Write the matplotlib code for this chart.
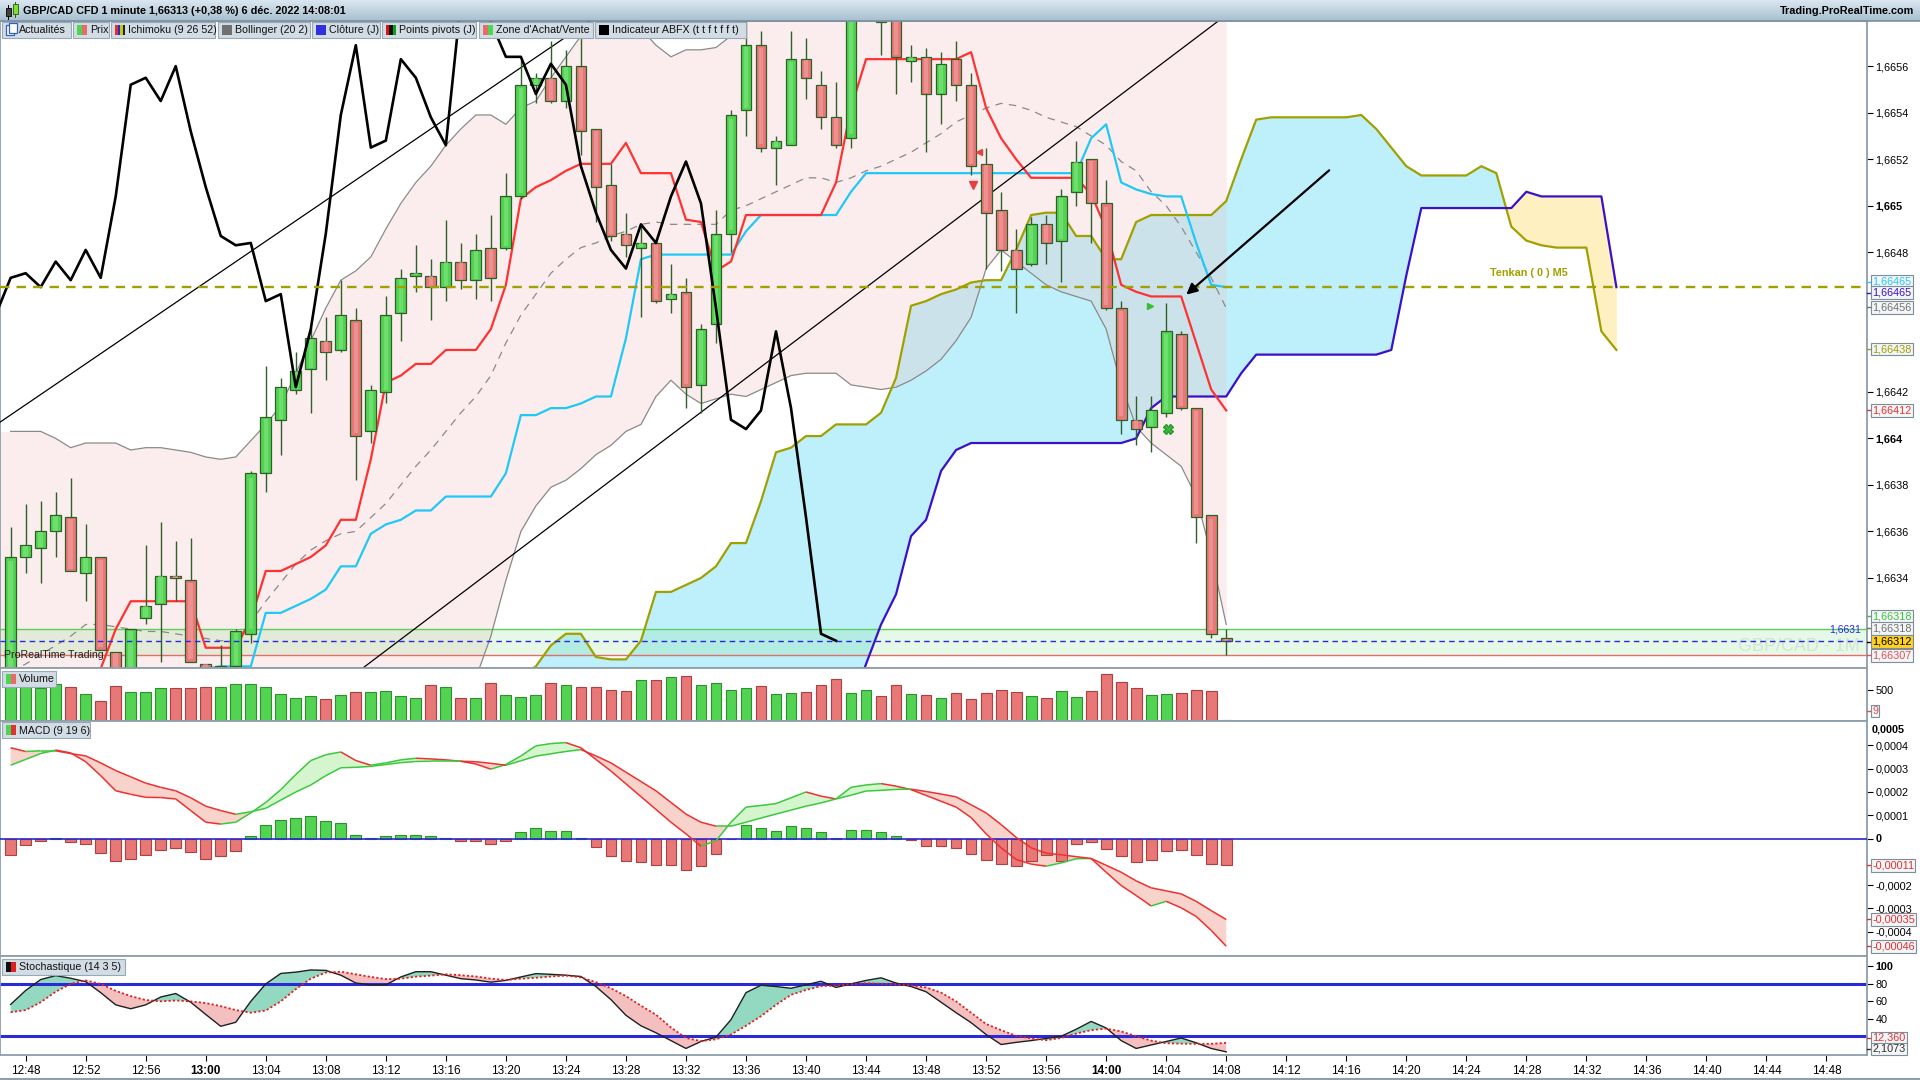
import numpy as np
import matplotlib
matplotlib.use("Agg")
import matplotlib.pyplot as plt
import matplotlib.transforms as mtransforms
from matplotlib.collections import LineCollection
from matplotlib.colors import LinearSegmentedColormap
from matplotlib.patches import Rectangle

plt.rcParams['font.family'] = ['Liberation Sans', 'DejaVu Sans']

nan = np.nan

title = "GBP/CAD CFD 1 minute 1,66313 (+0,38 %) 6 déc. 2022 14:08:01"
first_bar = "12:47"   # one candle per minute, 12:47 .. 14:08

opens = [1.66295, 1.66349, 1.66353, 1.66360, 1.66366, 1.66342, 1.66349, 1.66308, 1.66295, 1.66323,
         1.66329, 1.66341, 1.66339, 1.66303, 1.66299, 1.66302, 1.66316, 1.66385, 1.66408, 1.66421,
         1.66430, 1.66442, 1.66438, 1.66451, 1.66403, 1.66420, 1.66454, 1.66470, 1.66470, 1.66465,
         1.66476, 1.66468, 1.66482, 1.66482, 1.66504, 1.66552, 1.66555, 1.66545, 1.66560, 1.66533,
         1.66509, 1.66488, 1.66482, 1.66484, 1.66460, 1.66463, 1.66423, 1.66449, 1.66488, 1.66541,
         1.66569, 1.66525, 1.66526, 1.66563, 1.66552, 1.66538, 1.66529, 1.66588, 1.66598, 1.66590,
         1.66562, 1.66564, 1.66548, 1.66563, 1.66552, 1.66518, 1.66498, 1.66481, 1.66475, 1.66492,
         1.66485, 1.66506, 1.66520, 1.66501, 1.66456, 1.66408, 1.66405, 1.66411, 1.66445, 1.66413,
         1.66367, 1.66314]
highs = [1.66362, 1.66372, 1.66373, 1.66377, 1.66383, 1.66363, 1.66349, 1.66308, 1.66318, 1.66354,
         1.66364, 1.66356, 1.66357, 1.66303, 1.66311, 1.66318, 1.66386, 1.66431, 1.66426, 1.66437,
         1.66448, 1.66452, 1.66468, 1.66456, 1.66423, 1.66461, 1.66473, 1.66483, 1.66477, 1.66494,
         1.66484, 1.66488, 1.66496, 1.66514, 1.66563, 1.66557, 1.66571, 1.66567, 1.66573, 1.66533,
         1.66518, 1.66497, 1.66492, 1.66485, 1.66475, 1.66469, 1.66449, 1.66498, 1.66541, 1.66580,
         1.66575, 1.66530, 1.66575, 1.66572, 1.66558, 1.66553, 1.66592, 1.66606, 1.66603, 1.66595,
         1.66569, 1.66568, 1.66566, 1.66571, 1.66557, 1.66525, 1.66506, 1.66490, 1.66495, 1.66496,
         1.66507, 1.66528, 1.66520, 1.66511, 1.66459, 1.66418, 1.66418, 1.66458, 1.66446, 1.66413,
         1.66367, 1.66318]
lows = [1.66290, 1.66342, 1.66338, 1.66349, 1.66343, 1.66330, 1.66309, 1.66290, 1.66290, 1.66320,
        1.66304, 1.66330, 1.66304, 1.66290, 1.66290, 1.66300, 1.66312, 1.66377, 1.66393, 1.66419,
        1.66411, 1.66425, 1.66437, 1.66382, 1.66398, 1.66415, 1.66442, 1.66463, 1.66451, 1.66459,
        1.66464, 1.66460, 1.66459, 1.66481, 1.66503, 1.66544, 1.66544, 1.66542, 1.66522, 1.66493,
        1.66485, 1.66478, 1.66452, 1.66458, 1.66454, 1.66413, 1.66411, 1.66441, 1.66480, 1.66530,
        1.66523, 1.66509, 1.66526, 1.66546, 1.66533, 1.66525, 1.66525, 1.66582, 1.66565, 1.66548,
        1.66553, 1.66523, 1.66535, 1.66545, 1.66513, 1.66473, 1.66472, 1.66454, 1.66474, 1.66475,
        1.66467, 1.66500, 1.66484, 1.66455, 1.66402, 1.66397, 1.66394, 1.66409, 1.66412, 1.66355,
        1.66314, 1.66307]
closes = [1.66349, 1.66354, 1.66360, 1.66367, 1.66343, 1.66349, 1.66309, 1.66296, 1.66318, 1.66328,
          1.66341, 1.66340, 1.66304, 1.66298, 1.66302, 1.66317, 1.66385, 1.66409, 1.66422, 1.66429,
          1.66443, 1.66437, 1.66453, 1.66401, 1.66421, 1.66453, 1.66469, 1.66471, 1.66465, 1.66476,
          1.66468, 1.66481, 1.66469, 1.66504, 1.66552, 1.66555, 1.66545, 1.66560, 1.66532, 1.66508,
          1.66487, 1.66483, 1.66484, 1.66459, 1.66462, 1.66422, 1.66447, 1.66488, 1.66539, 1.66569,
          1.66525, 1.66528, 1.66563, 1.66555, 1.66538, 1.66526, 1.66588, 1.66600, 1.66579, 1.66564,
          1.66564, 1.66548, 1.66561, 1.66552, 1.66517, 1.66497, 1.66481, 1.66473, 1.66492, 1.66484,
          1.66504, 1.66519, 1.66501, 1.66456, 1.66408, 1.66404, 1.66412, 1.66446, 1.66413, 1.66366,
          1.66316, 1.66313]
volumes = [565, 565, 522, 587, 538, 439, 324, 554, 472, 472, 522, 522, 522, 538, 538, 587, 587, 538,
           439, 373, 406, 357, 423, 472, 472, 489, 406, 373, 571, 538, 373, 373, 604, 423, 390, 423,
           604, 571, 538, 538, 505, 489, 653, 653, 703, 719, 571, 604, 505, 522, 554, 439, 456, 472,
           571, 670, 456, 505, 406, 571, 439, 423, 373, 456, 357, 456, 505, 472, 406, 373, 489, 390,
           489, 752, 620, 522, 423, 439, 456, 505, 489, 9]

# Bollinger (20 2)
bb_upper = [1.66403, 1.66403, 1.66403, 1.66400, 1.66396, 1.66398, 1.66398, 1.66398, 1.66395, 1.66396,
            1.66396, 1.66395, 1.66394, 1.66392, 1.66391, 1.66392, 1.66399, 1.66406, 1.66414, 1.66428,
            1.66442, 1.66456, 1.66468, 1.66472, 1.66478, 1.66490, 1.66501, 1.66510, 1.66517, 1.66526,
            1.66533, 1.66539, 1.66539, 1.66535, 1.66542, 1.66545, 1.66555, 1.66564, 1.66573, 1.66583,
            1.66587, 1.66584, 1.66576, 1.66569, 1.66564, 1.66567, 1.66567, 1.66568, 1.66573, 1.66583,
            1.66590] + [nan] * 31
bb_mid = [1.66300, 1.66303, 1.66307, 1.66311, 1.66315, 1.66320, 1.66320, 1.66319, 1.66318, 1.66317,
          1.66317, 1.66316, 1.66315, 1.66314, 1.66313, 1.66313, 1.66321, 1.66330, 1.66338, 1.66346,
          1.66352, 1.66356, 1.66359, 1.66360, 1.66366, 1.66372, 1.66380, 1.66388, 1.66395, 1.66403,
          1.66411, 1.66418, 1.66427, 1.66441, 1.66453, 1.66462, 1.66471, 1.66477, 1.66482, 1.66484,
          1.66487, 1.66489, 1.66492, 1.66493, 1.66492, 1.66492, 1.66492, 1.66492, 1.66498, 1.66500,
          1.66503, 1.66506, 1.66509, 1.66512, 1.66512, 1.66510, 1.66512, 1.66515, 1.66517, 1.66520,
          1.66523, 1.66527, 1.66531, 1.66536, 1.66539, 1.66542, 1.66544, 1.66543, 1.66541, 1.66538,
          1.66536, 1.66534, 1.66530, 1.66526, 1.66519, 1.66515, 1.66506, 1.66500, 1.66491, 1.66480,
          1.66469, 1.66456]
bb_lower = [nan] * 31 + [1.66297,
            1.66315, 1.66339, 1.66360, 1.66371, 1.66379, 1.66382, 1.66387, 1.66393, 1.66397, 1.66403,
            1.66406, 1.66418, 1.66425, 1.66419, 1.66415, 1.66417, 1.66419, 1.66418, 1.66421, 1.66424,
            1.66427, 1.66428, 1.66428, 1.66428, 1.66423, 1.66422, 1.66421, 1.66422, 1.66425, 1.66429,
            1.66434, 1.66442, 1.66452, 1.66473, 1.66481, 1.66476, 1.66471, 1.66466, 1.66463, 1.66461,
            1.66459, 1.66447, 1.66423, 1.66405, 1.66398, 1.66393, 1.66388, 1.66375, 1.66350, 1.66320]

# Ichimoku (9 26 52)
tenkan = [nan] * 4 + [1.66301, 1.66301, 1.66301, 1.66318] + [1.66330] * 5 + [1.66310] * 3 + [
    1.66322, 1.66343, 1.66343, 1.66346, 1.66349, 1.66354, 1.66365, 1.66365, 1.66391, 1.66424,
    1.66427, 1.66432, 1.66432, 1.66438, 1.66438, 1.66438, 1.66447, 1.66466, 1.66503, 1.66508,
    1.66511, 1.66515, 1.66518, 1.66518, 1.66518, 1.66527, 1.66514, 1.66514, 1.66514, 1.66494,
    1.66493, 1.66472, 1.66476] + [1.66496] * 6 + [1.66510, 1.66542] + [1.66563] * 7 + [
    1.66566, 1.66542, 1.66529, 1.66520] + [1.66512] * 4 + [1.66505, 1.66490, 1.66466, 1.66463] + [
    1.66461] * 3 + [1.66441, 1.66421, 1.66412]
kijun = [nan] * 11 + [1.66301] * 3 + [1.66302] * 3 + [1.66325, 1.66325, 1.66328, 1.66331, 1.66335,
    1.66345, 1.66345, 1.66359, 1.66363, 1.66365, 1.66369, 1.66369] + [1.66375] * 4 + [
    1.66385, 1.66410, 1.66410, 1.66413, 1.66413, 1.66415, 1.66418, 1.66418, 1.66443, 1.66477] + [
    1.66479] * 6 + [1.66489] + [1.66496] * 6 + [1.66506] + [1.66514] * 15 + [
    1.66529, 1.66535, 1.66510, 1.66507, 1.66505, 1.66504, 1.66504, 1.66484, 1.66466, 1.66465]
senkou_a = [nan] * 33 + [
    1.66290, 1.66298, 1.66302, 1.66311, 1.66316, 1.66316, 1.66306, 1.66305, 1.66305, 1.66313,
    1.66334, 1.66334, 1.66337, 1.66340, 1.66345, 1.66355, 1.66355, 1.66373, 1.66394, 1.66396,
    1.66401, 1.66401, 1.66406, 1.66406, 1.66406, 1.66411, 1.66426, 1.66457, 1.66459, 1.66462,
    1.66464, 1.66467, 1.66468, 1.66468, 1.66481, 1.66496, 1.66497, 1.66497, 1.66487, 1.66487,
    1.66477, 1.66477, 1.66493] + [1.66496] * 5 + [1.66502, 1.66520, 1.66537] + [1.66538] * 6 + [
    1.66539, 1.66533, 1.66525, 1.66517] + [1.66513] * 4 + [
    1.66517, 1.66514, 1.66491, 1.66485, 1.66483, 1.66482, 1.66482, 1.66482, 1.66446, 1.66438]
senkou_b = [nan] * 56 + [1.66285, 1.66303, 1.66320, 1.66333, 1.66358, 1.66365, 1.66386, 1.66395] + [
    1.66398] * 11 + [1.66400, 1.66413] + [1.66418] * 5 + [1.66428] + [1.66436] * 9 + [
    1.66438, 1.66470] + [1.66499] * 7 + [1.66506] + [1.66504] * 5 + [1.66465]
chikou_lag = 26

# MACD (9 19 6), values in units of 1e-4
macd_line = [3.15, 3.40, 3.65, 3.80, 3.68, 3.30, 2.70, 2.05, 1.90, 1.77,
             1.76, 1.70, 1.20, 0.70, 0.62, 0.70, 1.10, 1.55, 2.10, 2.75,
             3.35, 3.60, 3.72, 3.35, 3.15, 3.25, 3.38, 3.45, 3.42, 3.38,
             3.32, 3.20, 2.98, 3.18, 3.55, 3.98, 4.08, 4.12, 3.90, 3.40,
             2.90, 2.35, 1.80, 1.25, 0.70, 0.20, -0.33, -0.10, 0.70, 1.35,
             1.42, 1.50, 1.75, 2.00, 1.82, 1.70, 2.20, 2.30, 2.36, 2.25,
             2.10, 1.85, 1.60, 1.35, 0.90, 0.20, -0.40, -0.90, -1.10, -1.19,
             -1.05, -0.87, -0.86, -1.45, -2.02, -2.45, -2.90, -2.70, -2.98, -3.35,
             -3.95, -4.63]
macd_signal = [3.90, 3.74, 3.77, 3.77, 3.65, 3.55, 3.25, 2.92, 2.65, 2.38,
               2.20, 2.05, 1.75, 1.39, 1.20, 1.04, 1.15, 1.30, 1.65, 2.00,
               2.30, 2.70, 3.04, 3.06, 3.10, 3.18, 3.26, 3.31, 3.32, 3.32,
               3.32, 3.30, 3.23, 3.15, 3.34, 3.54, 3.64, 3.74, 3.82, 3.55,
               3.25, 2.85, 2.45, 2.05, 1.55, 1.05, 0.70, 0.53, 0.53, 0.70,
               0.88, 1.05, 1.22, 1.39, 1.53, 1.70, 1.86, 2.04, 2.07, 2.11,
               2.12, 2.02, 1.91, 1.79, 1.45, 1.10, 0.60, 0.05, -0.40, -0.63,
               -0.70, -0.78, -0.86, -1.15, -1.45, -1.82, -2.12, -2.25, -2.38, -2.70,
               -3.10, -3.48]
macd_hist = [-0.69, -0.30, -0.12, 0.04, -0.14, -0.23, -0.62, -0.96, -0.87, -0.70,
             -0.49, -0.40, -0.57, -0.87, -0.76, -0.54, 0.09, 0.56, 0.80, 0.90,
             0.95, 0.77, 0.67, 0.17, 0.01, 0.09, 0.17, 0.17, 0.09, 0.04,
             -0.09, -0.10, -0.23, -0.10, 0.29, 0.46, 0.33, 0.33, 0.04, -0.36,
             -0.75, -0.96, -1.02, -1.13, -1.13, -1.35, -1.19, -0.66, -0.02, 0.56,
             0.47, 0.34, 0.52, 0.46, 0.26, 0.01, 0.37, 0.37, 0.29, 0.09,
             -0.06, -0.32, -0.32, -0.40, -0.66, -0.92, -1.09, -1.18, -0.96, -0.70,
             -0.96, -0.23, -0.14, -0.44, -0.75, -1.00, -0.92, -0.53, -0.49, -0.70,
             -1.09, -1.14]

# Stochastique (14 3 5)
stoch_k = [56.5, 72.5, 85, 89.5, 86.5, 82.6, 70, 56, 51.5, 56,
           65, 69, 59, 45, 31.4, 36, 60, 80, 92, 93.5,
           96, 95.5, 90, 81, 78.9, 78.9, 88, 94, 94, 90,
           86, 84.5, 82, 84, 88, 91.8, 91, 90, 88.5, 77,
           62, 44, 32, 24, 15, 6, 14, 19, 39, 70,
           78.5, 77, 75, 79, 83, 76, 80, 84, 87, 81,
           77, 71, 59, 47, 35.6, 22, 10.5, 13, 15, 17.5,
           20, 28, 37, 29.5, 15, 6, 10, 14, 18, 12.5,
           6, 2.1073]
stoch_d = [47.5, 50, 59, 71, 80, 84, 80, 72, 66, 61.5,
           60, 61, 60, 58, 54.5, 50, 47, 49.5, 60, 74,
           86, 93, 94, 91, 88, 85.5, 86, 88.3, 89.5, 91,
           90, 88.5, 86, 84.5, 86, 87, 88.5, 89.5, 87.5, 82,
           75, 66, 55, 44.7, 30, 18, 14.5, 16.5, 22, 32,
           43, 56, 67.5, 73, 77.5, 78.1, 79.5, 80.8, 80.2, 79.6,
           78, 76, 70, 60, 47, 34, 27, 20.5, 17.5, 15.5,
           18, 23, 27, 28.7, 25.5, 20, 15, 12, 11.5, 11.3,
           11.3, 12.36]

trend_lines = [((-0.7, 1.66407), (38.7, 1.66580)), ((23.0, 1.66299), (80.8, 1.66581))]
arrow_from = (88.0, 1.66516)
arrow_to = (78.2, 1.66461)
tenkan_m5 = 1.66465
day_close = 1.66313
zone_low, zone_high = 1.66307, 1.66318

x_labels = ['12:48', '12:52', '12:56', '13:00', '13:04', '13:08', '13:12', '13:16', '13:20',
            '13:24', '13:28', '13:32', '13:36', '13:40', '13:44', '13:48', '13:52', '13:56',
            '14:00', '14:04', '14:08', '14:12', '14:16', '14:20', '14:24', '14:28', '14:32',
            '14:36', '14:40', '14:44', '14:48']

GREEN = '#52d452'
RED = '#e87878'
GREEN_HI = '#86e886'
RED_HI = '#f2a4a4'
EDGE = '#30602a'
CYAN = '#20c8f8'
OLIVE = '#a0a000'
INDIGO = '#3a10c8'
BORDER = '#8e9eab'

W, H = 1920, 1080
fig = plt.figure(figsize=(19.2, 10.8), dpi=100, facecolor='white')


def frac(x0, y0, x1, y1):
    return [x0 / W, 1 - y1 / H, (x1 - x0) / W, (y1 - y0) / H]


ax = fig.add_axes(frac(0, 21, 1867, 668))
ax_vol = fig.add_axes(frac(0, 668, 1867, 721), sharex=ax)
ax_macd = fig.add_axes(frac(0, 721, 1867, 956), sharex=ax)
ax_sto = fig.add_axes(frac(0, 956, 1867, 1055), sharex=ax)

ylo, yhi = 1.663013, 1.665794
xl = (-0.71, 123.7)

o = np.array(opens); h = np.array(highs); l = np.array(lows); c = np.array(closes)
n = len(c)
xs = np.arange(n)
up = c >= o

# ---- main panel ----
top = np.array(bb_upper, dtype=float)
bot = np.array(bb_lower, dtype=float)
top = np.where(np.isnan(top), yhi + 0.0002, top)
bot = np.where(np.isnan(bot), ylo - 0.0002, bot)
xf = np.r_[xl[0], xs]
ax.fill_between(xf, np.r_[bot[0], bot], np.r_[top[0], top], color='#f2c4c4', alpha=0.3, lw=0, zorder=2)

a = np.array(senkou_a, dtype=float)
b = np.array(senkou_b, dtype=float)
xk = np.arange(len(a))
b_fill = np.where(np.isnan(b), ylo - 0.0002, b)
ax.fill_between(xk, a, b_fill, where=a >= b_fill, interpolate=True, color='#bdf0fb', lw=0, zorder=1)
ax.fill_between(xk, a, b_fill, where=a < b_fill, interpolate=True, color='#fff0c2', lw=0, zorder=1)

ax.axhspan(zone_low, zone_high, color='#8fe08f', alpha=0.22, lw=0, zorder=2.5)
ax.axhline(zone_high, color='#5ccf5c', lw=1, zorder=2.6)
ax.axhline(zone_low, color='#e07070', lw=1, zorder=2.6)

ax.plot(np.arange(len(bb_upper)), bb_upper, color='#8a8a8a', lw=0.9, zorder=3)
ax.plot(np.arange(len(bb_lower)), bb_lower, color='#8a8a8a', lw=0.9, zorder=3)
ax.plot(np.arange(len(bb_mid)), bb_mid, color='#8a8a8a', lw=0.9, ls=(0, (6, 5)), zorder=3)

ax.plot(np.arange(len(senkou_a)), senkou_a, color=OLIVE, lw=1.6, zorder=4)
ax.plot(np.arange(len(senkou_b)), senkou_b, color=INDIGO, lw=1.6, zorder=4)
ax.plot(np.arange(len(kijun)), kijun, color=CYAN, lw=1.6, zorder=4)
ax.plot(np.arange(len(tenkan)), tenkan, color='#ff3232', lw=1.6, zorder=4)

for (x0, y0), (x1, y1) in trend_lines:
    ax.plot([x0, x1], [y0, y1], color='black', lw=0.9, zorder=4)

ax.vlines(xs, l, h, color=EDGE, lw=1, zorder=5)
body_lo = np.minimum(o, c)
body_h = np.maximum(np.abs(c - o), 0.000006)
ax.bar(xs, body_h, 0.72, bottom=body_lo, color=[GREEN if u else RED for u in up],
       edgecolor=EDGE, lw=0.9, zorder=6)
# lighter centre stripe to suggest the shaded candle bodies
ax.bar(xs, body_h * 0.94, 0.3, bottom=body_lo + body_h * 0.03,
       color=[GREEN_HI if u else RED_HI for u in up], alpha=0.55, lw=0, zorder=6.1)

ax.plot(xs - chikou_lag, c, color='black', lw=1.9, zorder=7)

ax.axhline(tenkan_m5, color=OLIVE, lw=1.7, ls=(0, (4, 3)), zorder=7)
ax.axhline(day_close, color='#2828e8', lw=1, ls=(0, (4, 3)), zorder=7)
ax.text(101.2, 1.66471, 'Tenkan ( 0 ) M5', color=OLIVE, fontsize=7.8, fontweight='bold',
        ha='center', va='center', zorder=8)
ax.text(123.3, 1.66318, '1,6631', color='#2828e8', fontsize=7.5, ha='right', va='center', zorder=8)

ax.annotate('', xy=arrow_to, xytext=arrow_from,
            arrowprops=dict(arrowstyle='-|>', color='black', lw=1.6, mutation_scale=16), zorder=9)
ax.plot(64.1, 1.66509, marker='v', color='#e84040', ms=6, zorder=9)
ax.plot(64.55, 1.66523, marker='<', color='#e84040', ms=4, zorder=9)
ax.plot(75.9, 1.66457, marker='>', color='#30c030', ms=4, zorder=9)
ax.plot(77.1, 1.66404, marker='X', color='#3cb83c', ms=7, mec='#2a9a2a', zorder=9)

ax.text(0.002, 0.012, 'ProRealTime Trading', transform=ax.transAxes, fontsize=7.6, color='#202020',
        ha='left', va='bottom', zorder=10)
ax.text(0.996, 0.02, 'GBP/CAD - 1M', transform=ax.transAxes, fontsize=13, color='#e6e6e6',
        ha='right', va='bottom', zorder=1.5)

ax.set_ylim(ylo, yhi)

# ---- volume ----
ax_vol.bar(xs, volumes, 0.72, color=[GREEN if u else RED for u in up],
           edgecolor=['#2f8f2f' if u else '#b04040' for u in up], lw=0.8)
ax_vol.set_ylim(0, 851)

# ---- MACD ----
m = np.array(macd_line) * 1e-4
s = np.array(macd_signal) * 1e-4
hist = np.array(macd_hist) * 1e-4
ax_macd.bar(xs, hist, 0.72, color=[GREEN if v >= 0 else RED for v in hist],
            edgecolor=['#2f8f2f' if v >= 0 else '#b04040' for v in hist], lw=0.8, zorder=2)
ax_macd.fill_between(xs, m, s, where=m >= s, interpolate=True, color='#d5f5cf', lw=0, zorder=1)
ax_macd.fill_between(xs, m, s, where=m < s, interpolate=True, color='#f8d3cb', lw=0, zorder=1)
ax_macd.axhline(0, color='#2828c8', lw=1.2, zorder=3)


def direction_line(axis, x, y, lw):
    pts = np.column_stack([x, y])
    segs = np.stack([pts[:-1], pts[1:]], axis=1)
    cols = ['#3cc83c' if y[i + 1] >= y[i] else '#ee3030' for i in range(len(y) - 1)]
    axis.add_collection(LineCollection(segs, colors=cols, linewidths=lw, zorder=4))


direction_line(ax_macd, xs, m, 1.1)
direction_line(ax_macd, xs, s, 1.1)
ax_macd.set_ylim(-0.000505, 0.000505)

# ---- Stochastic ----
k = np.array(stoch_k)
d = np.array(stoch_d)
ax_sto.fill_between(xs, k, d, where=k >= d, interpolate=True, color='#93d9c1', lw=0, zorder=1)
ax_sto.fill_between(xs, k, d, where=k < d, interpolate=True, color='#f3c0bf', lw=0, zorder=1)
ax_sto.plot(xs, k, color='#202020', lw=1.0, zorder=3)
ax_sto.plot(xs, d, color='#e02020', lw=1.3, ls=(0, (1.2, 1.2)), zorder=3)
ax_sto.axhline(80, color='#2a2ad8', lw=2.2, zorder=2)
ax_sto.axhline(20, color='#2a2ad8', lw=2.2, zorder=2)
ax_sto.set_ylim(-1.5, 112)

# ---- axes styling ----
for axis in (ax, ax_vol, ax_macd, ax_sto):
    axis.set_xlim(*xl)
    axis.set_facecolor('white')
    for sp in axis.spines.values():
        sp.set_color(BORDER)
        sp.set_linewidth(1.3)
    axis.yaxis.tick_right()
    axis.tick_params(axis='y', direction='out', length=4, width=0.8, pad=2, labelsize=7.8,
                     colors='black')
    axis.tick_params(axis='x', bottom=False, labelbottom=False)


def minutes(t):
    hh, mm = t.split(':')
    return int(hh) * 60 + int(mm)


tick_pos = [minutes(t) - minutes(first_bar) for t in x_labels]
ax_sto.set_xticks(tick_pos, x_labels)
ax_sto.tick_params(axis='x', bottom=True, labelbottom=True, direction='out', length=4, width=0.8,
                   pad=3, labelsize=8.5, colors='black')
for lbl in ax_sto.get_xticklabels():
    lbl.set_family(['Liberation Sans Narrow', 'Liberation Sans', 'DejaVu Sans'])
    if lbl.get_text() in ('13:00', '14:00'):
        lbl.set_fontweight('bold')


def fmt(v, nd=4):
    t = f"{v:.{nd}f}".rstrip('0').rstrip('.')
    return t.replace('.', ',')


price_ticks = [1.6634, 1.6636, 1.6638, 1.6640, 1.6642, 1.6648, 1.6650, 1.6652, 1.6654, 1.6656]
ax.set_yticks(price_ticks, [fmt(p) for p in price_ticks])
for lbl in ax.get_yticklabels():
    if lbl.get_text() in ('1,665', '1,664'):
        lbl.set_fontweight('bold')

ax_vol.set_yticks([500], ['500'])

macd_ticks = [0.0004, 0.0003, 0.0002, 0.0001, 0.0, -0.0002, -0.0003, -0.0004]
ax_macd.set_yticks(macd_ticks, [fmt(v) if v != 0 else '0' for v in macd_ticks])
for lbl in ax_macd.get_yticklabels():
    if lbl.get_text() == '0':
        lbl.set_fontweight('bold')

ax_sto.set_yticks([100, 80, 60, 40], ['100', '80', '60', '40'])
for lbl in ax_sto.get_yticklabels():
    if lbl.get_text() == '100':
        lbl.set_fontweight('bold')


def box_label(axis, y, text, color, face='#f3f5f7'):
    tr = mtransforms.blended_transform_factory(axis.transAxes, axis.transData)
    axis.plot([1.0, 1.0025], [y, y], transform=tr, color=color, lw=1, clip_on=False, zorder=29)
    axis.text(1.0027, y, text, transform=tr, color=color, fontsize=7.8, va='center', ha='left',
              clip_on=False, zorder=30,
              bbox=dict(boxstyle='square,pad=0.12', fc=face, ec='#7d8d9a', lw=0.8))


box_label(ax, 1.664674, '1,66465', CYAN)
box_label(ax, 1.664626, '1,66465', INDIGO)
box_label(ax, 1.664563, '1,66456', '#707070')
box_label(ax, 1.664384, '1,66438', OLIVE)
box_label(ax, 1.664121, '1,66412', '#ee3030')
box_label(ax, 1.663235, '1,66318', '#40c040')
box_label(ax, 1.663184, '1,66318', '#707070')
box_label(ax, 1.663126, '1,66312', 'black', face='#ffd21f')
box_label(ax, 1.663068, '1,66307', '#e05050')
box_label(ax_vol, 160, '9', '#e05050')
tr_m = mtransforms.blended_transform_factory(ax_macd.transAxes, ax_macd.transData)
ax_macd.text(1.0027, 0.000468, '0,0005', transform=tr_m, fontsize=7.8, fontweight='bold',
             va='center', ha='left', clip_on=False)
box_label(ax_macd, -0.000116, '-0,00011', '#e03030')
box_label(ax_macd, -0.000347, '-0,00035', '#e03030')
box_label(ax_macd, -0.000463, '-0,00046', '#e03030')
box_label(ax_sto, 18, '12,360', '#e03030')
box_label(ax_sto, 5.6, '2,1073', '#303030')

# ---- window chrome: title bar and indicator tabs ----
ov = fig.add_axes([0, 0, 1, 1], zorder=20)
ov.patch.set_alpha(0)
grad = LinearSegmentedColormap.from_list('bar', ['#dae7f0', '#a8bfd0'])
ov.imshow(np.linspace(0, 1, 32).reshape(-1, 1), extent=[0, W, 21, 0], cmap=grad, aspect='auto',
          zorder=1)
ov.set_xlim(0, W)
ov.set_ylim(H, 0)
ov.axis('off')
ov.plot([0, W], [21, 21], color='#7a8fa0', lw=1.2)
ov.plot([0, W], [1078.5, 1078.5], color=BORDER, lw=1.5)

ov.add_patch(Rectangle((6, 8), 4.5, 8, fc='#404040', ec='black', lw=0.6, zorder=3))
ov.plot([8.25, 8.25], [5, 19], color='black', lw=0.7, zorder=2)
ov.add_patch(Rectangle((12.5, 4), 5, 10, fc='#7fe02a', ec='#2a5a10', lw=0.6, zorder=3))
ov.plot([15, 15], [2, 17], color='#2a5a10', lw=0.7, zorder=2)
ov.text(23, 11, title, fontsize=7.8, fontweight='bold', va='center', ha='left', zorder=3)
ov.text(1914, 11, 'Trading.ProRealTime.com', fontsize=7.8, fontweight='bold', va='center',
        ha='right', zorder=3)

tabs = [(2, 71, 'Actualités', None),
        (73, 109, 'Prix', ['#4fd44f', '#e86a6a']),
        (111, 215, 'Ichimoku (9 26 52)', ['#e03030', '#2030e0', '#c8c800', '#202020']),
        (218, 310, 'Bollinger (20 2)', ['#707070']),
        (312, 380, 'Clôture (J)', ['#3030e0']),
        (382, 476, 'Points pivots (J)', ['#e01010', '#101010', '#10a010']),
        (479, 593, "Zone d'Achat/Vente", ['#e86a6a', '#4fd44f']),
        (595, 746, 'Indicateur ABFX (t t f t f f t)', ['#000000'])]
panel_tabs = [(2, 671, 56, 'Volume', ['#4fd44f', '#e86a6a']),
              (2, 722, 90, 'MACD (9 19 6)', ['#4fd44f', '#e03030']),
              (2, 959, 125, 'Stochastique (14 3 5)', ['#101010', '#e02020'])]


def tab(x0, y0, x1, label, icon):
    hgt = 16
    ov.add_patch(Rectangle((x0, y0), x1 - x0, hgt, fc='#d2dce5', ec='#98a9b6', lw=0.8, zorder=4))
    iy = y0 + 3
    if icon is None:
        ov.add_patch(Rectangle((x0 + 4, iy), 8, 10, fc='white', ec='#3060c0', lw=0.9, zorder=5))
        ov.add_patch(Rectangle((x0 + 6.5, iy - 1.5), 8, 10, fc='white', ec='#3060c0', lw=0.9, zorder=5))
    else:
        wd = 10 / len(icon)
        for j, col in enumerate(icon):
            ov.add_patch(Rectangle((x0 + 4 + j * wd, iy), wd, 10, fc=col, lw=0, zorder=5))
    ov.text(x0 + 17, y0 + hgt / 2 + 0.5, label, fontsize=7.7, va='center', ha='left', zorder=5,
            color='#101010')


for x0, x1, label, icon in tabs:
    tab(x0, 21.5, x1, label, icon)
for x0, y0, x1, label, icon in panel_tabs:
    tab(x0, y0, x1, label, icon)

fig.savefig('out.png', dpi=100)
